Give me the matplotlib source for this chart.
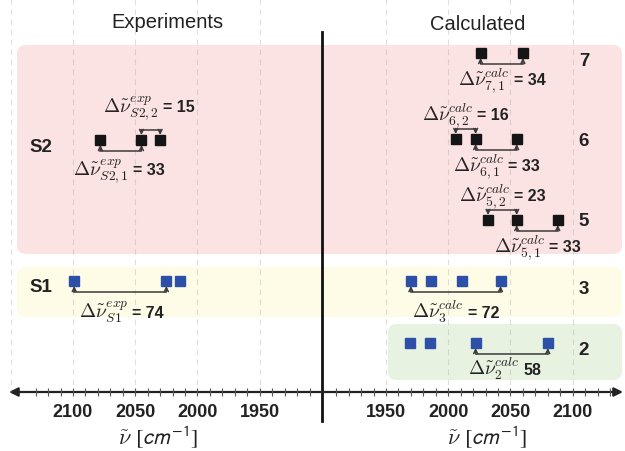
import matplotlib.pyplot as plt
from matplotlib.patches import FancyBboxPatch

plt.rcParams["font.family"] = ["Liberation Sans", "DejaVu Sans"]
plt.rcParams["mathtext.fontset"] = "cm"

# peak positions in cm^-1
exp_s2 = [2078, 2045, 2030]
exp_s1 = [2099, 2025, 2014]
calc_7 = [2026, 2060]
calc_6 = [2006, 2022, 2055]
calc_5 = [2032, 2055, 2088]
calc_3 = [1970, 1986, 2011, 2042]
calc_2 = [1969, 1985, 2022, 2080]

major_ticks = [1950, 2000, 2050, 2100]
minor_ticks = list(range(1910, 2140, 10))

# gap labels: (peaks, i, j, side, math part, value part)
exp_gaps = [
    (exp_s2, 1, 2, "above", r"$\Delta\tilde{\nu}^{exp}_{S2,2}$", "= 15"),
    (exp_s2, 0, 1, "below", r"$\Delta\tilde{\nu}^{exp}_{S2,1}$", "= 33"),
    (exp_s1, 0, 1, "below", r"$\Delta\tilde{\nu}^{exp}_{S1}$", "= 74"),
]
calc_gaps = [
    (calc_7, 0, 1, "below", r"$\Delta\tilde{\nu}^{calc}_{7,1}$", "= 34"),
    (calc_6, 0, 1, "above", r"$\Delta\tilde{\nu}^{calc}_{6,2}$", "= 16"),
    (calc_6, 1, 2, "below", r"$\Delta\tilde{\nu}^{calc}_{6,1}$", "= 33"),
    (calc_5, 0, 1, "above", r"$\Delta\tilde{\nu}^{calc}_{5,2}$", "= 23"),
    (calc_5, 1, 2, "below", r"$\Delta\tilde{\nu}^{calc}_{5,1}$", "= 33"),
    (calc_3, 0, 3, "below", r"$\Delta\tilde{\nu}^{calc}_{3}$", "= 72"),
    (calc_2, 2, 3, "below", r"$\Delta\tilde{\nu}^{calc}_{2}$", "58"),
]

# layout (pixel rows, y grows downward)
W, H = 625, 452
row_y = {id(exp_s2): 141, id(exp_s1): 282, id(calc_7): 54, id(calc_6): 140,
         id(calc_5): 221, id(calc_3): 282, id(calc_2): 344}
label_base = {("above", 141): -29, ("below", 141): 34, ("below", 282): 36}
BLACK = "#151515"
BLUE = "#2e4fa7"
TXT = "#222222"
LINE = "#3a3a3a"
AXIS_Y = 393

fig = plt.figure(figsize=(W / 100, H / 100), dpi=100)
bg = fig.add_axes([0, 0, 1, 1], zorder=0)
bg.set_xlim(0, W)
bg.set_ylim(H, 0)
bg.axis("off")

# coloured group boxes
for x0, y0, x1, y1, col in [(17, 46, 622, 255, "#fce3e3"),
                            (17, 268, 622, 318, "#fefbe7"),
                            (388, 325, 622, 381, "#e7f2e1")]:
    bg.add_patch(FancyBboxPatch((x0, y0), x1 - x0, y1 - y0,
                                boxstyle="round,pad=0,rounding_size=9",
                                fc=col, ec="none"))

axL = fig.add_axes([0, 0, 322 / W, 1], zorder=1)
axR = fig.add_axes([322 / W, 0, 303 / W, 1], zorder=1)
axL.set_xlim(2158.6, 1900.0)
axR.set_xlim(1898.6, 2142.0)

for ax, grid in [(axL, [2150, 2100, 2050, 2000, 1950]),
                 (axR, [1950, 2000, 2050, 2100])]:
    ax.set_ylim(H, 0)
    ax.set_facecolor("none")
    for sp in ["left", "right", "top"]:
        ax.spines[sp].set_visible(False)
    ax.spines["bottom"].set_position(("data", AXIS_Y))
    ax.spines["bottom"].set_visible(False)
    ax.set_yticks([])
    ax.set_xticks(major_ticks)
    ax.set_xticks([t for t in minor_ticks if t not in major_ticks], minor=True)
    ax.tick_params(axis="x", which="both", direction="inout", length=6,
                   width=0.8, color="#555555", pad=5, labelsize=13,
                   labelcolor=TXT)
    for lbl in ax.get_xticklabels():
        lbl.set_fontweight("bold")
    ax.vlines(grid, 0, AXIS_Y, colors="#999999", alpha=0.3, lw=0.8,
              linestyles=(0, (5, 4)), zorder=0.5)


def draw_row(ax, peaks, color):
    y = row_y[id(peaks)]
    ax.plot(peaks, [y] * len(peaks), "s", ms=7.5, color=color,
            mec=color, zorder=4)


def draw_gap(ax, peaks, i, j, side, math, value):
    y = row_y[id(peaks)]
    sign = 1 if side == "below" else -1
    ybar = y + sign * 10.5
    ytip = y + sign * 5
    x1, x2 = peaks[i], peaks[j]
    ax.plot([x1, x2], [ybar, ybar], color=LINE, lw=1.1, zorder=3)
    for x in (x1, x2):
        ax.annotate("", xy=(x, ytip), xytext=(x, ybar),
                    arrowprops=dict(arrowstyle="->", color=LINE, lw=1.1,
                                    shrinkA=0, shrinkB=0, mutation_scale=7),
                    zorder=3)
    dy = label_base.get((side, y), 31 if side == "below" else -20)
    xm = (x1 + x2) / 2
    ax.annotate(math, xy=(xm, y + dy), xytext=(6, 0),
                textcoords="offset points", ha="right", va="baseline",
                fontsize=14, color=TXT, zorder=5)
    ax.annotate(value, xy=(xm, y + dy), xytext=(8.5, 0),
                textcoords="offset points", ha="left", va="baseline",
                fontsize=11.5, fontweight="bold", color=TXT, zorder=5)


draw_row(axL, exp_s2, BLACK)
draw_row(axL, exp_s1, BLUE)
for peaks in [calc_7, calc_6, calc_5]:
    draw_row(axR, peaks, BLACK)
for peaks in [calc_3, calc_2]:
    draw_row(axR, peaks, BLUE)
for g in exp_gaps:
    draw_gap(axL, *g)
for g in calc_gaps:
    draw_gap(axR, *g)

# horizontal axis with arrows, centre divider
bg.annotate("", xy=(9, AXIS_Y), xytext=(623, AXIS_Y),
            arrowprops=dict(arrowstyle="<|-|>", color="#222222", lw=1.6,
                            mutation_scale=13, shrinkA=0, shrinkB=0))
bg.plot([322, 322], [33, 422], color="#111111", lw=2)

# titles, group and row labels
bg.text(167, 23, "Experiments", ha="center", va="center", fontsize=14.5,
        color=TXT)
bg.text(478, 25, "Calculated", ha="center", va="center", fontsize=14.5,
        color=TXT)
for txt, x, y in [("S2", 41, 148), ("S1", 41, 288), ("7", 584, 62),
                  ("6", 584, 142), ("5", 584, 222), ("3", 584, 290),
                  ("2", 584, 351)]:
    bg.text(x, y, txt, ha="center", va="center", fontsize=13.5,
            fontweight="bold", color=TXT)

# axis labels: nu-tilde in CM, unit in sans italic
for xc in (160, 489):
    t1 = bg.text(xc - 28, 445, r"$\tilde{\nu}$", ha="right", va="baseline",
                 fontsize=16, color=TXT)
    t2 = bg.text(xc - 25, 445, r"$[cm^{-1}]$", ha="left", va="baseline",
                 fontsize=16, color=TXT)
    t2.set_math_fontfamily("stixsans")

fig.savefig("out.png", dpi=100)
